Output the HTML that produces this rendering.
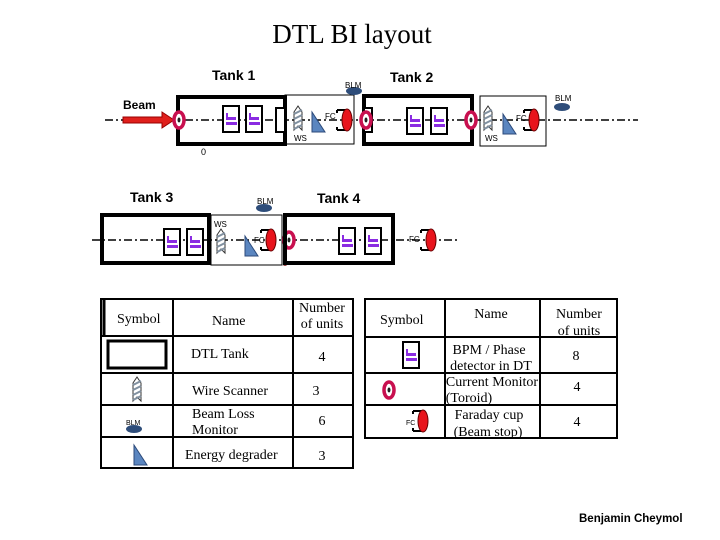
<!DOCTYPE html>
<html><head><meta charset="utf-8"><style>
body{margin:0;background:#fff}
svg{display:block}
.a{font-family:"Liberation Sans",Arial,sans-serif}
.t{font-family:"Liberation Serif","Times New Roman",serif}
</style></head><body>
<svg width="720" height="540" viewBox="0 0 720 540" xmlns="http://www.w3.org/2000/svg">
<defs>
<g id="bpm"><rect x="0" y="0" width="16" height="26" fill="#fff" stroke="#000" stroke-width="2"/><rect x="3" y="11" width="10" height="3" fill="#8a2be2"/><rect x="3" y="16" width="11" height="3" fill="#8a2be2"/><rect x="3" y="7" width="2" height="7" fill="#8a2be2"/></g>
<g id="tor"><ellipse cx="0" cy="0" rx="5" ry="8" fill="#fff" stroke="#c8104f" stroke-width="3.5"/><ellipse cx="0" cy="0" rx="1.5" ry="2.5" fill="#222"/></g>
<g id="ws"><polygon points="0,-12 4,-6 4,12 0,8 -4,12 -4,-6" fill="#fff" stroke="#333" stroke-width="1"/><path d="M-4,-4 L4,-8 M-4,1 L4,-3 M-4,6 L4,2 M-4,11 L4,7" stroke="#8090a0" stroke-width="2"/></g>
<g id="tri"><polygon points="0,-12 13,8 0,8" fill="#5b86c0" stroke="#2c4a7a" stroke-width="1"/></g>
<g id="fc"><path d="M0,-10 H10 M0,10 H10 M0,-10 V-7 M0,10 V7" stroke="#000" stroke-width="2" fill="none"/><ellipse cx="10" cy="0" rx="5" ry="11" fill="#e8141c" stroke="#600" stroke-width="1"/></g>
<g id="blm"><ellipse cx="0" cy="0" rx="8" ry="4" fill="#2e4d7a"/></g>
</defs>

<text x="352" y="43" text-anchor="middle" class="t" font-size="27">DTL BI layout</text>

<!-- Row 1 -->
<line x1="105" y1="120" x2="638" y2="120" stroke="#000" stroke-width="1.5" stroke-dasharray="8,3,2,3"/>
<text x="212" y="80" class="a" font-size="14" font-weight="bold">Tank 1</text>
<text x="390" y="82" class="a" font-size="14" font-weight="bold">Tank 2</text>
<text x="123" y="109" class="a" font-size="12" font-weight="bold">Beam</text>
<path d="M123,117 H162 V112 L174,120 L162,128 V123 H123 Z" fill="#e0201c" stroke="#900" stroke-width="1"/>
<rect x="178" y="97" width="107" height="47" fill="none" stroke="#000" stroke-width="4"/>
<rect x="285" y="95" width="69" height="49" fill="none" stroke="#000" stroke-width="1"/>
<rect x="276" y="108" width="9" height="24" fill="#fff" stroke="#000" stroke-width="2"/>
<use href="#tor" x="179" y="120"/>
<use href="#bpm" x="223" y="106"/>
<use href="#bpm" x="246" y="106"/>
<use href="#ws" x="298" y="118"/>
<text x="294" y="141" class="a" font-size="8">WS</text>
<use href="#tri" x="312" y="124"/>
<text x="325" y="119" class="a" font-size="8">FC</text>
<use href="#fc" x="337" y="120"/>
<use href="#blm" x="354" y="91"/>
<text x="345" y="88" class="a" font-size="8">BLM</text>
<text x="201" y="155" class="a" font-size="9">0</text>

<rect x="364" y="96" width="108" height="48" fill="none" stroke="#000" stroke-width="4"/>
<rect x="364" y="108" width="8" height="24" fill="#fff" stroke="#000" stroke-width="2"/>
<use href="#tor" x="366" y="120"/>
<use href="#bpm" x="407" y="108"/>
<use href="#bpm" x="431" y="108"/>
<use href="#tor" x="471" y="120"/>
<rect x="480" y="96" width="66" height="50" fill="none" stroke="#000" stroke-width="1"/>
<use href="#ws" x="488" y="118"/>
<text x="485" y="141" class="a" font-size="8">WS</text>
<use href="#tri" x="503" y="126"/>
<text x="516" y="121" class="a" font-size="8">FC</text>
<use href="#fc" x="524" y="120"/>
<use href="#blm" x="562" y="107"/>
<text x="555" y="101" class="a" font-size="8">BLM</text>

<!-- Row 2 -->
<line x1="92" y1="240" x2="460" y2="240" stroke="#000" stroke-width="1.5" stroke-dasharray="8,3,2,3"/>
<text x="130" y="202" class="a" font-size="14" font-weight="bold">Tank 3</text>
<text x="317" y="203" class="a" font-size="14" font-weight="bold">Tank 4</text>
<rect x="102" y="215" width="107" height="48" fill="none" stroke="#000" stroke-width="4"/>
<use href="#bpm" x="164" y="229"/>
<use href="#bpm" x="187" y="229"/>
<rect x="211" y="215" width="71" height="50" fill="none" stroke="#000" stroke-width="1"/>
<text x="214" y="227" class="a" font-size="8">WS</text>
<use href="#ws" x="221" y="241"/>
<use href="#tri" x="245" y="248"/>
<text x="254" y="243" class="a" font-size="8">FC</text>
<use href="#fc" x="261" y="240"/>
<use href="#blm" x="264" y="208"/>
<text x="257" y="204" class="a" font-size="8">BLM</text>
<line x1="285" y1="213" x2="285" y2="266" stroke="#a05050" stroke-width="3"/>
<use href="#tor" x="289" y="240"/>
<rect x="285" y="215" width="108" height="48" fill="none" stroke="#000" stroke-width="4"/>
<use href="#bpm" x="339" y="228"/>
<use href="#bpm" x="365" y="228"/>
<text x="409" y="242" class="a" font-size="8">FC</text>
<use href="#fc" x="421" y="240"/>

<!-- Left table -->
<g stroke="#000" stroke-width="2" fill="none">
<rect x="101" y="299" width="252" height="169"/>
<line x1="173" y1="299" x2="173" y2="468"/>
<line x1="293" y1="299" x2="293" y2="468"/>
<line x1="101" y1="336" x2="353" y2="336"/>
<line x1="101" y1="373" x2="353" y2="373"/>
<line x1="101" y1="405" x2="353" y2="405"/>
<line x1="101" y1="437" x2="353" y2="437"/>
<line x1="104" y1="299" x2="104" y2="336" stroke-width="3"/>
</g>
<rect x="108" y="341" width="58" height="27" fill="none" stroke="#000" stroke-width="3"/>
<use href="#ws" x="137" y="389"/>
<use href="#blm" x="134" y="429"/>
<text x="126" y="425" class="a" font-size="7">BLM</text>
<use href="#tri" x="134" y="457"/>
<g class="t" font-size="14">
<text x="117" y="323">Symbol</text>
<text x="212" y="325">Name</text>
<text x="322" y="312" text-anchor="middle">Number</text>
<text x="322" y="328" text-anchor="middle">of units</text>
<text x="191" y="358">DTL Tank</text>
<text x="322" y="361" text-anchor="middle">4</text>
<text x="192" y="395">Wire Scanner</text>
<text x="316" y="395" text-anchor="middle">3</text>
<text x="192" y="418">Beam Loss</text>
<text x="192" y="434">Monitor</text>
<text x="322" y="425" text-anchor="middle">6</text>
<text x="185" y="459">Energy degrader</text>
<text x="322" y="460" text-anchor="middle">3</text>
</g>

<!-- Right table -->
<g stroke="#000" stroke-width="2" fill="none">
<rect x="365" y="299" width="252" height="139"/>
<line x1="445" y1="299" x2="445" y2="438"/>
<line x1="540" y1="299" x2="540" y2="438"/>
<line x1="365" y1="337" x2="617" y2="337"/>
<line x1="365" y1="373" x2="617" y2="373"/>
<line x1="365" y1="405" x2="617" y2="405"/>
</g>
<use href="#bpm" x="403" y="342"/>
<use href="#tor" x="389" y="390"/>
<text x="406" y="425" class="a" font-size="7">FC</text>
<use href="#fc" x="413" y="421"/>
<g class="t" font-size="14">
<text x="380" y="324">Symbol</text>
<text x="491" y="318" text-anchor="middle">Name</text>
<text x="579" y="318" text-anchor="middle">Number</text>
<text x="579" y="335" text-anchor="middle">of units</text>
<text x="489" y="354" text-anchor="middle">BPM / Phase</text>
<text x="491" y="370" text-anchor="middle">detector in DT</text>
<text x="576" y="360" text-anchor="middle">8</text>
<text x="492" y="386" text-anchor="middle">Current Monitor</text>
<text x="469" y="402" text-anchor="middle">(Toroid)</text>
<text x="577" y="391" text-anchor="middle">4</text>
<text x="489" y="419" text-anchor="middle">Faraday cup</text>
<text x="488" y="436" text-anchor="middle">(Beam stop)</text>
<text x="577" y="426" text-anchor="middle">4</text>
</g>

<text x="579" y="522" class="a" font-size="11.5" font-weight="bold">Benjamin Cheymol</text>
</svg>
</body></html>
